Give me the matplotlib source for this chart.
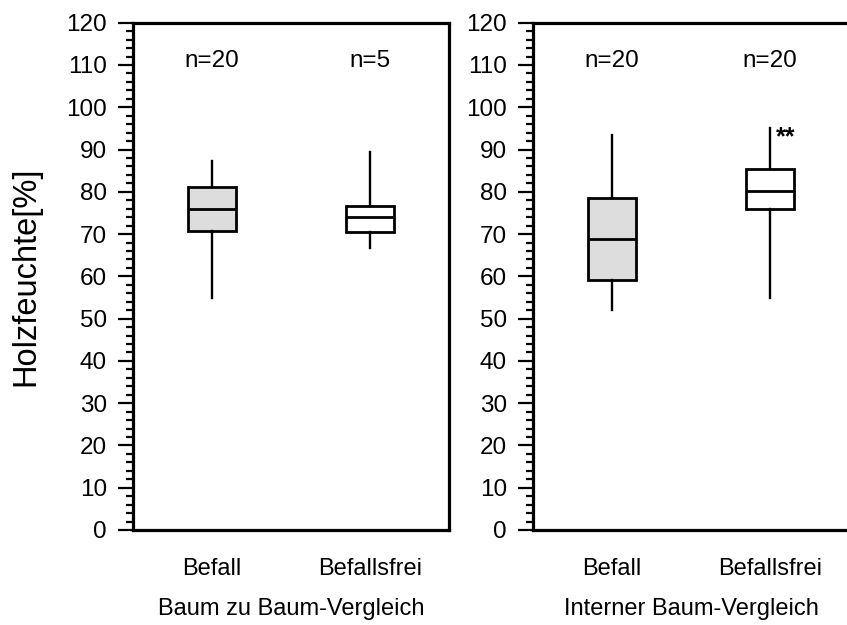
import matplotlib
matplotlib.use('Agg')
import matplotlib.pyplot as plt
from matplotlib.ticker import MultipleLocator

plt.rcParams['font.family'] = ['Liberation Sans', 'DejaVu Sans']

# data
groups = ['Befall', 'Befallsfrei']
panelTitles = ['Baum zu Baum-Vergleich', 'Interner Baum-Vergleich']
counts = [['n=20', 'n=5'], ['n=20', 'n=20']]
# whisker low, q1, median, q3, whisker high
leftStats = [[54.8, 70.7, 75.9, 81.2, 87.4],
             [66.8, 70.4, 74.0, 76.7, 89.3]]
rightStats = [[52.0, 59.1, 68.8, 78.5, 93.4],
              [54.8, 75.9, 80.2, 85.4, 95.2]]
boxColors = ['#dddddd', 'white']

fig = plt.figure(figsize=(8.47, 6.25), dpi=100)
axLeft = fig.add_axes([133/847, 95/625, 316/847, 507.3/625])
axRight = fig.add_axes([533/847, 95/625, 316/847, 507.3/625])

for ax, stats, title, nLabels in zip([axLeft, axRight], [leftStats, rightStats], panelTitles, counts):
	bxpStats = []
	for name, s in zip(groups, stats):
		bxpStats.append({'label': name, 'whislo': s[0], 'q1': s[1], 'med': s[2],
						 'q3': s[3], 'whishi': s[4], 'fliers': []})
	parts = ax.bxp(bxpStats, positions=[1, 2], widths=0.3, showcaps=False,
				   showfliers=False, patch_artist=True,
				   boxprops=dict(linewidth=2.0, edgecolor='black'),
				   whiskerprops=dict(linewidth=1.7, color='black'),
				   medianprops=dict(linewidth=2.0, color='black'))
	for patch, c in zip(parts['boxes'], boxColors):
		patch.set_facecolor(c)
	for i, lab in enumerate(nLabels):
		ax.text(i + 1, 111, lab, ha='center', va='center', fontsize=17.5)

	ax.set_xlim(0.5, 2.5)
	ax.set_ylim(0, 120)
	ax.yaxis.set_major_locator(MultipleLocator(10))
	ax.yaxis.set_minor_locator(MultipleLocator(2))
	ax.tick_params(axis='y', which='major', direction='out', length=10.8, width=1.6, labelsize=17.5, pad=8)
	ax.tick_params(axis='y', which='minor', direction='out', length=5, width=1.6)
	ax.tick_params(axis='x', length=0, labelsize=17, pad=20)
	ax.set_xticks([1, 2])
	ax.set_xticklabels(groups)
	ax.set_xlabel(title, fontsize=17, labelpad=13)
	for sp in ax.spines.values():
		sp.set_linewidth(2.3)

axRight.text(2.04, 93, '**', ha='left', va='center', fontsize=18, fontweight='bold')
axLeft.set_ylabel('Holzfeuchte[%]', fontsize=23.5, labelpad=18)

fig.savefig('out.png', dpi=100)
